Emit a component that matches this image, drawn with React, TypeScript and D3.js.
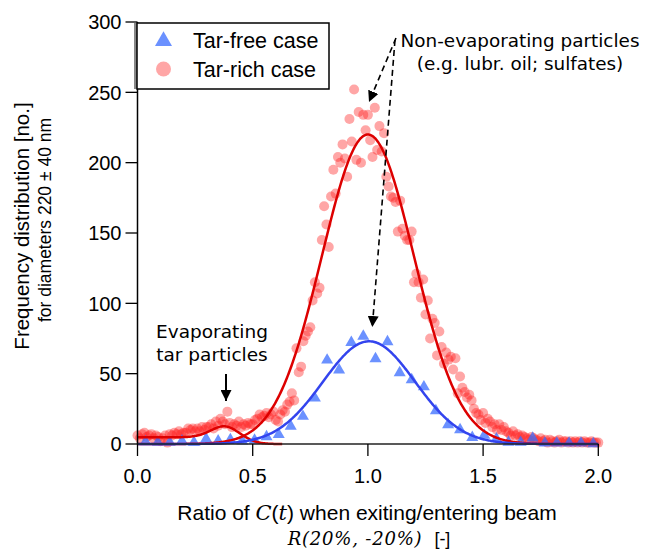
import React from 'react';
import * as d3 from 'd3';

// ---------- data ----------
const xTicks = [0, 0.5, 1.0, 1.5, 2.0];
const yTicks = [0, 50, 100, 150, 200, 250, 300];

// Tar-rich case: points on a 0.01 grid from 0.00 to 2.00
const RED_X_START = 0;
const RED_X_STEP = 0.01;
const redValues = [
  6, 4, 7, 8, 5, 6, 7, 4, 6, 5,
  2, 4, 6, 1, 7, 6, 8, 7, 9, 7,
  8, 8, 11, 10, 11, 9, 11, 9, 12, 10,
  12, 12, 14, 11, 16, 13, 18, 16, 14, 23,
  15, 12, 14, 13, 16, 12, 14, 13, 15, 14,
  14, 17, 18, 21, 19, 20, 22, 19, 21, 23,
  17, 16, 21, 24, 23, 28, 30, 36, 31, 68,
  51, 55, 73, 77, 80, 83, 102, 115, 107, 111,
  145, 169, 156, 140, 176, 195, 178, 204, 200, 213,
  203, 190, 231, 215, 252, 202, 236, 200, 234, 223,
  234, 216, 204, 239, 209, 226, 208, 221, 190, 183,
  176, 175, 172, 151, 173, 153, 148, 145, 145, 151,
  115, 121, 115, 104, 117, 92, 102, 75, 89, 86,
  63, 80, 69, 57, 65, 60, 62, 53, 61, 36,
  48, 40, 37, 33, 35, 31, 25, 22, 21, 17,
  22, 15, 18, 16, 12, 14, 10, 14, 10, 12,
  9, 8, 6, 9, 6, 7, 5, 6, 5, 4,
  3, 5, 4, 3, 2, 4, 2, 3, 1, 3,
  2, 1, 2, 3, 1, 2, 2, 1, 2, 1,
  2, 1, 2, 1, 2, 1, 1, 2, 1, 1,
  1,
];

// Tar-free case
const blueX = [
  0.035, 0.088, 0.14, 0.193, 0.245, 0.298, 0.35, 0.403, 0.455, 0.508,
  0.56, 0.613, 0.665, 0.718, 0.77, 0.823, 0.875, 0.928, 0.98, 1.033,
  1.085, 1.138, 1.19, 1.243, 1.295, 1.348, 1.4, 1.453, 1.505, 1.558,
  1.61, 1.663, 1.715, 1.768, 1.82, 1.873, 1.925, 1.978,
];
const blueValues = [
  2, 1.5, 1.5, 2.5, 1.5, 4, 2.5, 3.5, 2.5, 3,
  5.5, 7, 13, 20, 33, 60, 53, 72.5, 77, 61,
  73, 51, 46, 41, 24, 14, 10.5, 5, 6.5, 4,
  1.5, 1.5, 4.5, 1, 1, 1, 1, 0.5,
];

// Gaussian fit parameters [amplitude, centre, sigma]
const redFit = [220, 1.0, 0.2];
const blueFit = [73, 1.005, 0.2];
// tar peak fit: [amplitude, centre, sigma, base level, base edge, base width, x end]
const tarFit = [9.5, 0.39, 0.065, 4.8, 0.4, 0.03, 0.63];

// ---------- layout ----------
const W = 645;
const H = 552;
const x = d3.scaleLinear().domain([0, 2]).range([137.5, 598.3]);
const y = d3.scaleLinear().domain([0, 300]).range([444, 22]);

const gauss = (p: number[]) => (t: number) =>
  p[0] * Math.exp(-((t - p[1]) ** 2) / (2 * p[2] * p[2]));
const tarCurve = (t: number) =>
  tarFit[0] * Math.exp(-((t - tarFit[1]) ** 2) / (2 * tarFit[2] * tarFit[2])) +
  tarFit[3] / (1 + Math.exp((t - tarFit[4]) / tarFit[5]));

const sampleGrid = d3.range(0, 2.0001, 0.004);
const tarGrid = d3.range(0, tarFit[6] + 0.0001, 0.004);

const line = d3
  .line<[number, number]>()
  .x((d) => x(d[0]))
  .y((d) => y(d[1]));

const redPath = line(sampleGrid.map((t) => [t, gauss(redFit)(t)]))!;
const bluePath = line(sampleGrid.map((t) => [t, gauss(blueFit)(t)]))!;
const tarPath = line(tarGrid.map((t) => [t, tarCurve(t)]))!;

const sans = "'Liberation Sans', Arial, sans-serif";
const verd = "'DejaVu Sans', Verdana, sans-serif";
const mathFont = "'DejaVu Serif', serif";

const RED_FILL = '#ff2020';
const RED_OP = 0.4;
const BLUE_FILL = '#3a6cff';
const BLUE_OP = 0.75;

const tri = (cx: number, cy: number, s: number) => {
  const h = s * 0.866;
  return `M${cx},${cy - h * 0.62}L${cx + s / 2},${cy + h * 0.38}L${cx - s / 2},${cy + h * 0.38}Z`;
};

export default function App() {
  return (
    <svg
      width={W}
      height={H}
      viewBox={`0 0 ${W} ${H}`}
      style={{ position: 'absolute', left: 0, top: 0, display: 'block', background: '#fff' }}
    >
      <defs>
        <marker id="ah" viewBox="0 0 10 10" refX="10" refY="5" markerWidth="11" markerHeight="11" markerUnits="userSpaceOnUse" orient="auto">
          <path d="M0,0L10,5L0,10Z" fill="#000" />
        </marker>
      </defs>

      {/* red points */}
      <g>
        {redValues.map((v, i) => (
          <circle key={i} cx={x(RED_X_START + i * RED_X_STEP)} cy={y(v)} r={5} fill={RED_FILL} fillOpacity={RED_OP} />
        ))}
      </g>
      {/* blue triangles */}
      <g>
        {blueValues.map((v, i) => (
          <path key={i} d={tri(x(blueX[i]), y(v), 12)} fill={BLUE_FILL} fillOpacity={BLUE_OP} />
        ))}
      </g>

      {/* fits */}
      <path d={tarPath} fill="none" stroke="#dd0000" strokeWidth={2.5} />
      <path d={redPath} fill="none" stroke="#dd0000" strokeWidth={2.5} />
      <path d={bluePath} fill="none" stroke="#3344ee" strokeWidth={2.5} />

      {/* axes */}
      <line x1={x(0)} x2={x(0)} y1={y(300)} y2={y(0)} stroke="#000" strokeWidth={1.5} />
      <line x1={x(0)} x2={x(2)} y1={y(0)} y2={y(0)} stroke="#222" strokeWidth={1.5} />
      {yTicks.map((t) => (
        <g key={t}>
          <line x1={x(0) - 12} x2={x(0)} y1={y(t)} y2={y(t)} stroke="#000" strokeWidth={1.3} />
          <text x={x(0) - 16} y={y(t)} dy="0.36em" textAnchor="end" fontFamily={sans} fontSize={20}>
            {t}
          </text>
        </g>
      ))}
      {xTicks.map((t) => (
        <g key={t}>
          <line x1={x(t)} x2={x(t)} y1={y(0)} y2={y(0) + 12} stroke="#000" strokeWidth={1.3} />
          <text x={x(t)} y={483} textAnchor="middle" fontFamily={sans} fontSize={20}>
            {t.toFixed(1)}
          </text>
        </g>
      ))}

      {/* axis titles */}
      <text x={367} y={520} textAnchor="middle" fontFamily={sans} fontSize={21}>
        Ratio of <tspan fontFamily={mathFont} fontStyle="italic">C</tspan>
        <tspan>(</tspan>
        <tspan fontFamily={mathFont} fontStyle="italic">t</tspan>
        <tspan>) when exiting/entering beam</tspan>
      </text>
      <text x={369} y={545} textAnchor="middle" fontFamily={mathFont} fontStyle="italic" fontSize={18} letterSpacing={0.8}>
        R(20%, -20%)
        <tspan fontStyle="normal" fontFamily={sans} dx="12" letterSpacing={0}>[-]</tspan>
      </text>
      <text transform="translate(29,226) rotate(-90)" textAnchor="middle" fontFamily={sans} fontSize={20.5}>
        Frequency distribution [no.]
      </text>
      <text transform="translate(51,220) rotate(-90)" textAnchor="middle" fontFamily={sans} fontSize={17.5}>
        for diameters 220 ± 40 nm
      </text>

      {/* legend */}
      <rect x={134} y={23} width={4} height={66} fill="#888" />
      <rect x={137} y={23} width={192} height={66} fill="#fff" stroke="#000" strokeWidth={1.5} />
      <path d={tri(163.5, 40.5, 17)} fill={BLUE_FILL} fillOpacity={BLUE_OP} />
      <circle cx={163.5} cy={69} r={7.5} fill={RED_FILL} fillOpacity={RED_OP} />
      <text x={193} y={47.5} fontFamily={sans} fontSize={21.5}>Tar-free case</text>
      <text x={193} y={76.5} fontFamily={sans} fontSize={21.5}>Tar-rich case</text>

      {/* annotations */}
      <text x={520} y={47} textAnchor="middle" fontFamily={verd} fontSize={18.4}>
        Non-evaporating particles
      </text>
      <text x={520} y={70} textAnchor="middle" fontFamily={verd} fontSize={18.4}>
        (e.g. lubr. oil; sulfates)
      </text>
      <line x1={396} y1={38} x2={369} y2={102} stroke="#000" strokeWidth={1.6} strokeDasharray="6,4" markerEnd="url(#ah)" />
      <line x1={395} y1={40} x2={372.3} y2={327} stroke="#000" strokeWidth={1.6} strokeDasharray="6,4" markerEnd="url(#ah)" />

      <text x={212} y={338} textAnchor="middle" fontFamily={verd} fontSize={18.5}>
        Evaporating
      </text>
      <text x={212} y={361} textAnchor="middle" fontFamily={verd} fontSize={18.5}>
        tar particles
      </text>
      <line x1={226} y1={374} x2={226} y2={401} stroke="#000" strokeWidth={2} markerEnd="url(#ah)" />
    </svg>
  );
}
